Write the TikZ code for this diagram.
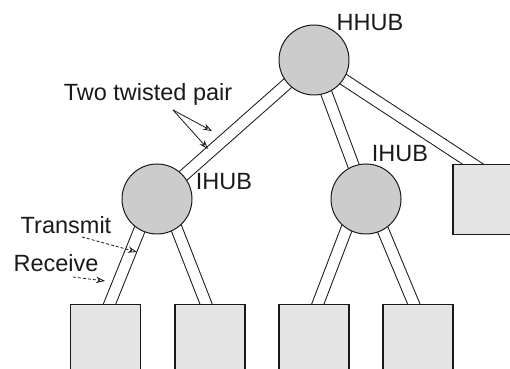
\documentclass[tikz,border=0pt]{standalone}
\usepackage{fontspec}
\setmainfont{Liberation Sans}
\usetikzlibrary{arrows.meta,calc}
\definecolor{hubfill}{HTML}{CCCCCC}
\definecolor{boxfill}{HTML}{E4E4E4}
\definecolor{ink}{HTML}{1A1A1A}
\begin{document}
\begin{tikzpicture}[x=0.5pt,y=-0.5pt,
  hub/.style={circle,draw=ink,fill=hubfill,line width=0.5pt,minimum size=35pt,inner sep=0pt},
  stn/.style={rectangle,draw=ink,fill=boxfill,line width=0.6pt,minimum width=35pt,minimum height=35pt,inner sep=0pt},
  cable/.style={draw=ink,line width=0.5pt,double=white,double distance=5.2pt},
  lbl/.style={inner sep=0pt,font=\fontsize{11.75}{13}\selectfont,text=ink},
  ptr/.style={draw=ink,line width=0.4pt,-{Stealth[open,length=4.5pt,width=3.2pt]}},
  dptr/.style={ptr,dash pattern=on 1.5pt off 1pt}]
\useasboundingbox (0,0) rectangle (510,369);
\fill[white] (0,0) rectangle (510,369);
\begin{scope}
\clip (0,0) rectangle (510,369);
% node positions
\coordinate (hhc) at (314,60);
\coordinate (i1c) at (157,199);
\coordinate (i2c) at (366,199);
\coordinate (b1n) at (105.5,304);
\coordinate (b2n) at (210,304);
\coordinate (b3n) at (314,304);
\coordinate (b4n) at (418,304);
\coordinate (rbn) at (488,164);
% cables
\draw[cable] (hhc) -- (i1c);
\draw[cable] (hhc) -- (i2c);
\draw[cable] (hhc) -- ($(rbn)+(0,10)$);
\draw[cable] ($(i1c)+(-5,0)$) -- ($(b1n)+(0,10)$);
\draw[cable] ($(i1c)+(8,0)$) -- ($(b2n)+(0,10)$);
\draw[cable] ($(i2c)+(-8,0)$) -- ($(b3n)+(0,10)$);
\draw[cable] ($(i2c)+(4,0)$) -- ($(b4n)+(0,10)$);
% hubs
\node[hub] (hh) at (hhc) {};
\node[hub] (i1) at (i1c) {};
\node[hub] (i2) at (i2c) {};
% stations
\node[stn,anchor=north] (b1) at (b1n) {};
\node[stn,anchor=north] (b2) at (b2n) {};
\node[stn,anchor=north] (b3) at (b3n) {};
\node[stn,anchor=north] (b4) at (b4n) {};
\node[stn,anchor=north] (rb) at (rbn) {};
\end{scope}
% labels
\node[lbl] (lh) at (370,23) {HHUB};
\node[lbl] (l1) at (224,182) {IHUB};
\node[lbl] (l2) at (400,154) {IHUB};
\node[lbl] (tp) at (148,94) {Two twisted pair};
\node[lbl] (tx) at (66,225) {Transmit};
\node[lbl] (rx) at (56,263) {Receive};
% pointers
\coordinate (tps) at (173,110);
\coordinate (tpa) at (212,131);
\coordinate (tpb) at (208,149);
\coordinate (txs) at (82,237);
\coordinate (txe) at (137,252);
\coordinate (rxs) at (73,277);
\coordinate (rxe) at (105,281);
\draw[ptr] (tps) -- (tpa);
\draw[ptr] (tps) -- (tpb);
\draw[dptr] (txs) -- (txe);
\draw[dptr] (rxs) -- (rxe);
\end{tikzpicture}
\end{document}
